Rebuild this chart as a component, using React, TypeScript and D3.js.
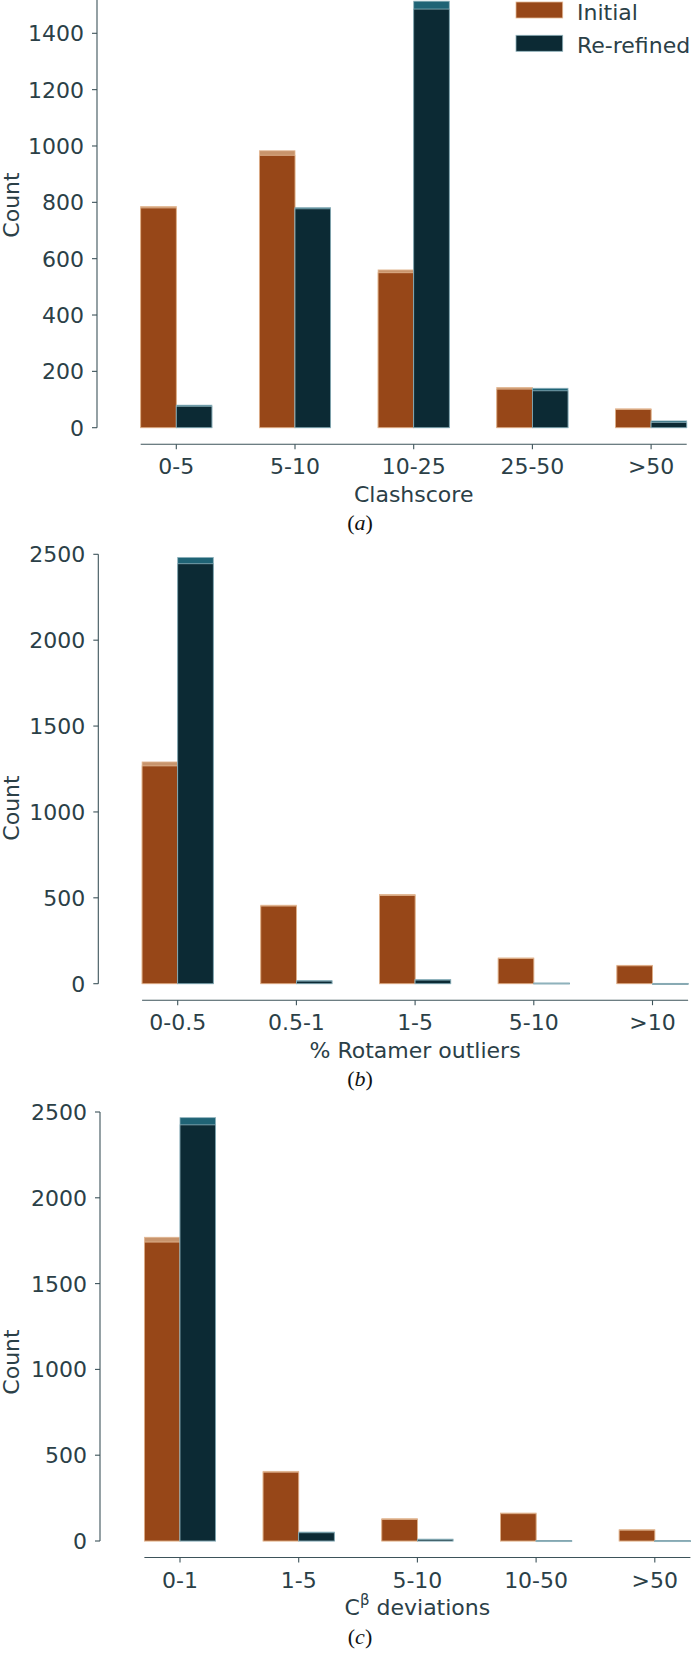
import React from "react";
import * as d3 from "d3";

// (a) Clashscore
const clashCats = ["0-5", "5-10", "10-25", "25-50", ">50"];
const clashInitialTop = [785, 983, 560, 143, 67];
const clashInitial = [780, 967, 550, 137, 65];
const clashRefinedTop = [80, 781, 1514, 140, 24];
const clashRefined = [76, 777, 1486, 131, 19];
const clashTicks = [0, 200, 400, 600, 800, 1000, 1200, 1400];

// (b) % Rotamer outliers
const rotaCats = ["0-0.5", "0.5-1", "1-5", "5-10", ">10"];
const rotaInitialTop = [1291, 457, 520, 150, 107];
const rotaInitial = [1268, 452, 514, 146, 104];
const rotaRefinedTop = [2482, 18, 24, 4, 2];
const rotaRefined = [2445, 15, 21, 3, 1];
const rotaTicks = [0, 500, 1000, 1500, 2000, 2500];

// (c) Cbeta deviations
const cbCats = ["0-1", "1-5", "5-10", "10-50", ">50"];
const cbInitialTop = [1770, 406, 130, 163, 66];
const cbInitial = [1742, 401, 126, 159, 63];
const cbRefinedTop = [2467, 52, 11, 3, 2];
const cbRefined = [2425, 48, 8, 1, 1];
const cbTicks = [0, 500, 1000, 1500, 2000, 2500];

const legendItems = ["Initial", "Re-refined"];

const TEXT = "#2b4047";
const SPINE = "#3d535a";
const INIT_DARK = "#974718";
const INIT_LIGHT = "#c8946c";
const INIT_EDGE = "#e3b894";
const REF_DARK = "#0c2a34";
const REF_LIGHT = "#1f6375";
const REF_EDGE = "#8fb2bc";
const SANS = "DejaVu Sans";
const FS = 22;

type PanelProps = {
  cats: string[];
  initTop: number[];
  init: number[];
  refTop: number[];
  refi: number[];
  ticks: number[];
  axisX: number;
  zeroY: number;
  topTickY: number;
  spineTop?: number;
  firstTick: number;
  xTitle: React.ReactNode;
  letter: string;
  countY: number;
};

const Panel = (p: PanelProps) => {
  const step = 118.7;
  const bw = step * 0.3;
  const topVal = p.ticks[p.ticks.length - 1];
  const y = d3.scaleLinear().domain([0, topVal]).range([p.zeroY, p.topTickY]);
  const x = d3
    .scalePoint<string>()
    .domain(p.cats)
    .range([p.firstTick, p.firstTick + step * (p.cats.length - 1)]);
  const spineY = p.zeroY + 16.5;
  const xl = x(p.cats[0])! - bw;
  const xr = x(p.cats[p.cats.length - 1])! + bw;
  const spineTop = p.spineTop !== undefined ? p.spineTop : y(topVal);

  const bar = (cx: number, v: number, fill: string, stroke: string, key: string) => (
    <rect
      key={key}
      x={cx}
      y={y(v)}
      width={bw}
      height={Math.max(0.8, y(0) - y(v))}
      fill={fill}
      stroke={stroke}
      strokeWidth={0.8}
    />
  );

  return (
    <g>
      {p.cats.map((c, i) => {
        const cx = x(c)!;
        return (
          <g key={c}>
            {bar(cx - bw, p.initTop[i], INIT_LIGHT, INIT_EDGE, "it")}
            {bar(cx - bw, p.init[i], INIT_DARK, INIT_EDGE, "i")}
            {bar(cx, p.refTop[i], REF_LIGHT, REF_EDGE, "rt")}
            {bar(cx, p.refi[i], REF_DARK, REF_EDGE, "r")}
          </g>
        );
      })}
      {/* y axis */}
      <line x1={p.axisX} x2={p.axisX} y1={spineTop} y2={p.zeroY} stroke={SPINE} strokeWidth={1.1} />
      {p.ticks.map((t) => (
        <g key={t}>
          <line x1={p.axisX - 5} x2={p.axisX} y1={y(t)} y2={y(t)} stroke={SPINE} strokeWidth={1.1} />
          <text
            x={p.axisX - 13}
            y={y(t)}
            dy="0.36em"
            textAnchor="end"
            fontFamily={SANS}
            fontSize={FS}
            fill={TEXT}
          >
            {t}
          </text>
        </g>
      ))}
      <text
        transform={`translate(19,${p.countY}) rotate(-90)`}
        textAnchor="middle"
        fontFamily={SANS}
        fontSize={FS}
        fill={TEXT}
      >
        Count
      </text>
      {/* x axis */}
      <line x1={xl} x2={xr} y1={spineY} y2={spineY} stroke={SPINE} strokeWidth={1.1} />
      {p.cats.map((c) => (
        <g key={c}>
          <line x1={x(c)} x2={x(c)} y1={spineY} y2={spineY + 5} stroke={SPINE} strokeWidth={1.1} />
          <text
            x={x(c)}
            y={spineY + 30}
            textAnchor="middle"
            fontFamily={SANS}
            fontSize={FS}
            fill={TEXT}
          >
            {c}
          </text>
        </g>
      ))}
      <text
        x={(xl + xr) / 2}
        y={spineY + 57.5}
        textAnchor="middle"
        fontFamily={SANS}
        fontSize={FS}
        fill={TEXT}
      >
        {p.xTitle}
      </text>
      <text
        x={360}
        y={spineY + 86}
        textAnchor="middle"
        fontFamily="Liberation Serif"
        fontSize={22}
        fill="#111"
      >
        (<tspan fontStyle="italic">{p.letter}</tspan>)
      </text>
    </g>
  );
};

const App = () => {
  return (
    <div style={{ position: "absolute", left: 0, top: 0 }}>
      <svg width={692} height={1653} style={{ display: "block", background: "#fff" }}>
        <Panel
          cats={clashCats}
          initTop={clashInitialTop}
          init={clashInitial}
          refTop={clashRefinedTop}
          refi={clashRefined}
          ticks={clashTicks}
          axisX={97}
          zeroY={427.7}
          topTickY={33.3}
          spineTop={0}
          firstTick={176.3}
          xTitle="Clashscore"
          letter="a"
          countY={205}
        />
        <Panel
          cats={rotaCats}
          initTop={rotaInitialTop}
          init={rotaInitial}
          refTop={rotaRefinedTop}
          refi={rotaRefined}
          ticks={rotaTicks}
          axisX={98.3}
          zeroY={983.7}
          topTickY={554.3}
          firstTick={177.7}
          xTitle="% Rotamer outliers"
          letter="b"
          countY={808}
        />
        <Panel
          cats={cbCats}
          initTop={cbInitialTop}
          init={cbInitial}
          refTop={cbRefinedTop}
          refi={cbRefined}
          ticks={cbTicks}
          axisX={100}
          zeroY={1541}
          topTickY={1112}
          firstTick={180}
          xTitle={
            <>
              C
              <tspan fontSize={15} dy={-10}>
                β
              </tspan>
              <tspan dy={10}> deviations</tspan>
            </>
          }
          letter="c"
          countY={1362}
        />
        {/* legend */}
        {legendItems.map((name, i) => (
          <g key={name} transform={`translate(0,${i * 33.3})`}>
            <rect
              x={516}
              y={2}
              width={46.7}
              height={16}
              fill={i === 0 ? INIT_DARK : REF_DARK}
              stroke={i === 0 ? INIT_EDGE : REF_EDGE}
              strokeWidth={0.8}
            />
            <text x={577} y={19.5} fontFamily={SANS} fontSize={FS} fill={TEXT}>
              {name}
            </text>
          </g>
        ))}
      </svg>
    </div>
  );
};

export default App;
